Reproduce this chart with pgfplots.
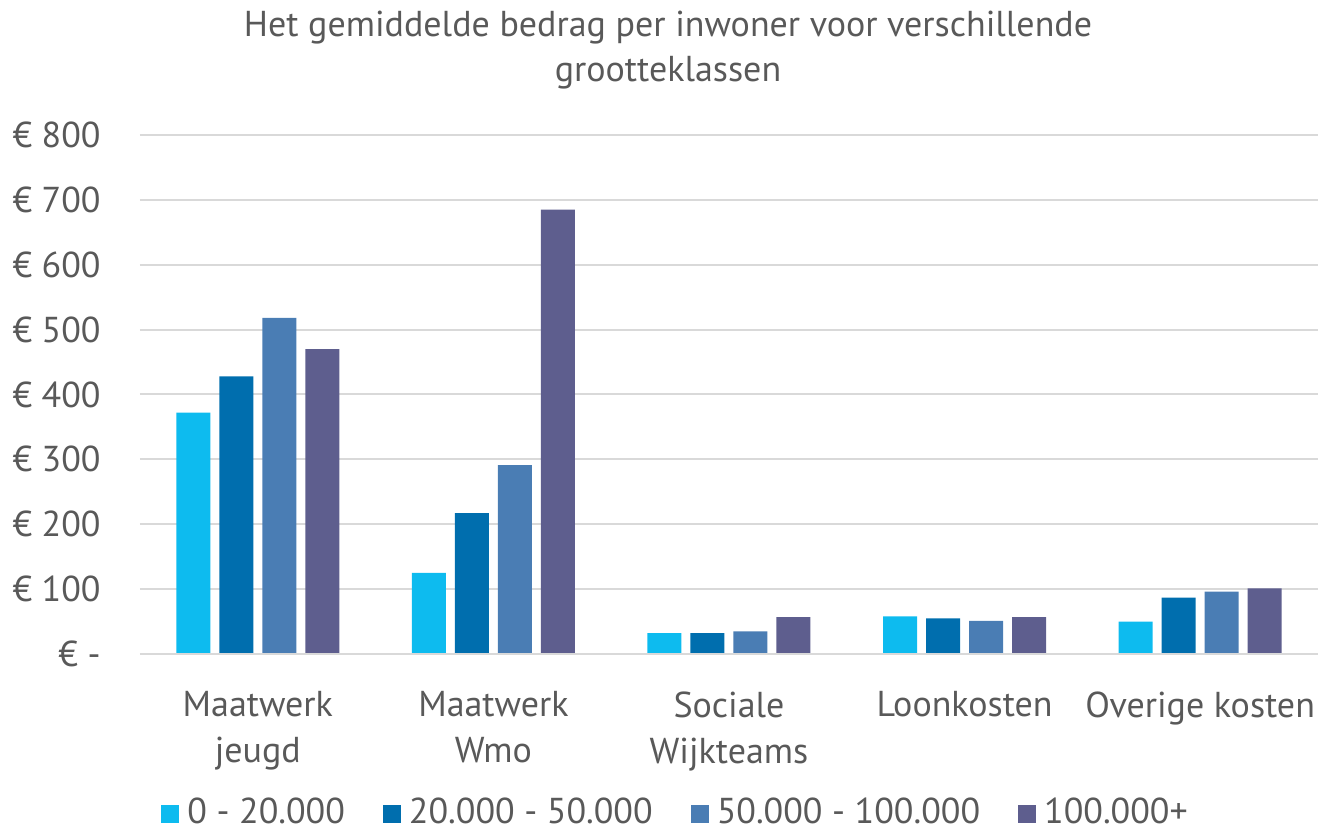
\documentclass[border=0pt]{standalone}
\usepackage{pgfplots}
\pgfplotsset{compat=1.18}
\usepackage{fontspec}
\setmainfont{PT Sans}
\definecolor{txt}{HTML}{595959}
\definecolor{gridc}{HTML}{D9D9D9}
\definecolor{cA}{HTML}{0DBBEF}
\definecolor{cB}{HTML}{006EAE}
\definecolor{cC}{HTML}{4A7DB4}
\definecolor{cD}{HTML}{5E5E8E}
\begin{document}
\fontsize{18}{23}\selectfont
\begin{tikzpicture}
\useasboundingbox (0,0) rectangle (667.5pt,417.5pt);
\node[anchor=base, text=txt, font=\fontsize{18}{23}\selectfont, inner sep=0pt] at (334pt,399pt) {Het gemiddelde bedrag per inwoner voor verschillende};
\node[anchor=base, text=txt, font=\fontsize{18}{23}\selectfont, inner sep=0pt] at (334pt,376.5pt) {grootteklassen};
\begin{axis}[
  at={(70pt,90.5pt)}, anchor=south west,
  scale only axis, width=589pt, height=259.5pt,
  ymin=0, ymax=800, xmin=-0.5, xmax=4.5,
  ybar=4.5pt, bar width=17pt,
  axis line style={draw=none},
  ytick={0,100,...,800},
  yticklabels={{€ -\hspace{8.5pt}},€ 100,€ 200,€ 300,€ 400,€ 500,€ 600,€ 700,€ 800},
  yticklabel style={anchor=east, xshift=-13.5pt, text=txt, font=\fontsize{18}{23}\selectfont},
  ymajorgrids=true, xmajorgrids=false,
  y grid style={draw=gridc, line width=1pt},
  major tick length=0pt,
  xtick={0,1,2,3,4},
  xticklabels={{Maatwerk\\jeugd},{Maatwerk\\Wmo},{Sociale\\Wijkteams},{Loonkosten},{Overige kosten}},
  xticklabel style={anchor=north, align=center, yshift=-12.5pt, text=txt, font=\fontsize{18}{23}\selectfont},
  legend columns=4,
  legend style={at={(0.4555,-0.308)}, anchor=center, draw=none, fill=none,
    font=\fontsize{18}{23}\selectfont, text=txt,
    /tikz/every odd column/.append style={column sep=2pt},
    /tikz/every even column/.append style={column sep=17pt}},
  legend image code/.code={\fill[#1] (0pt,-4.5pt) rectangle (9pt,4.5pt);},
]
\addplot[fill=cA, draw=none] coordinates {(0,372) (1,125) (2,32) (3,58) (4,50)};
\addplot[fill=cB, draw=none] coordinates {(0,428) (1,217) (2,32) (3,55) (4,87)};
\addplot[fill=cC, draw=none] coordinates {(0,518) (1,291) (2,35) (3,51) (4,96)};
\addplot[fill=cD, draw=none] coordinates {(0,470) (1,685) (2,57) (3,57) (4,101)};
\draw[gridc, line width=1pt] (axis cs:-0.5,0) -- (axis cs:4.5,0);
\legend{0 - 20.000, 20.000 - 50.000, 50.000 - 100.000, 100.000+}
\end{axis}
\end{tikzpicture}
\end{document}
